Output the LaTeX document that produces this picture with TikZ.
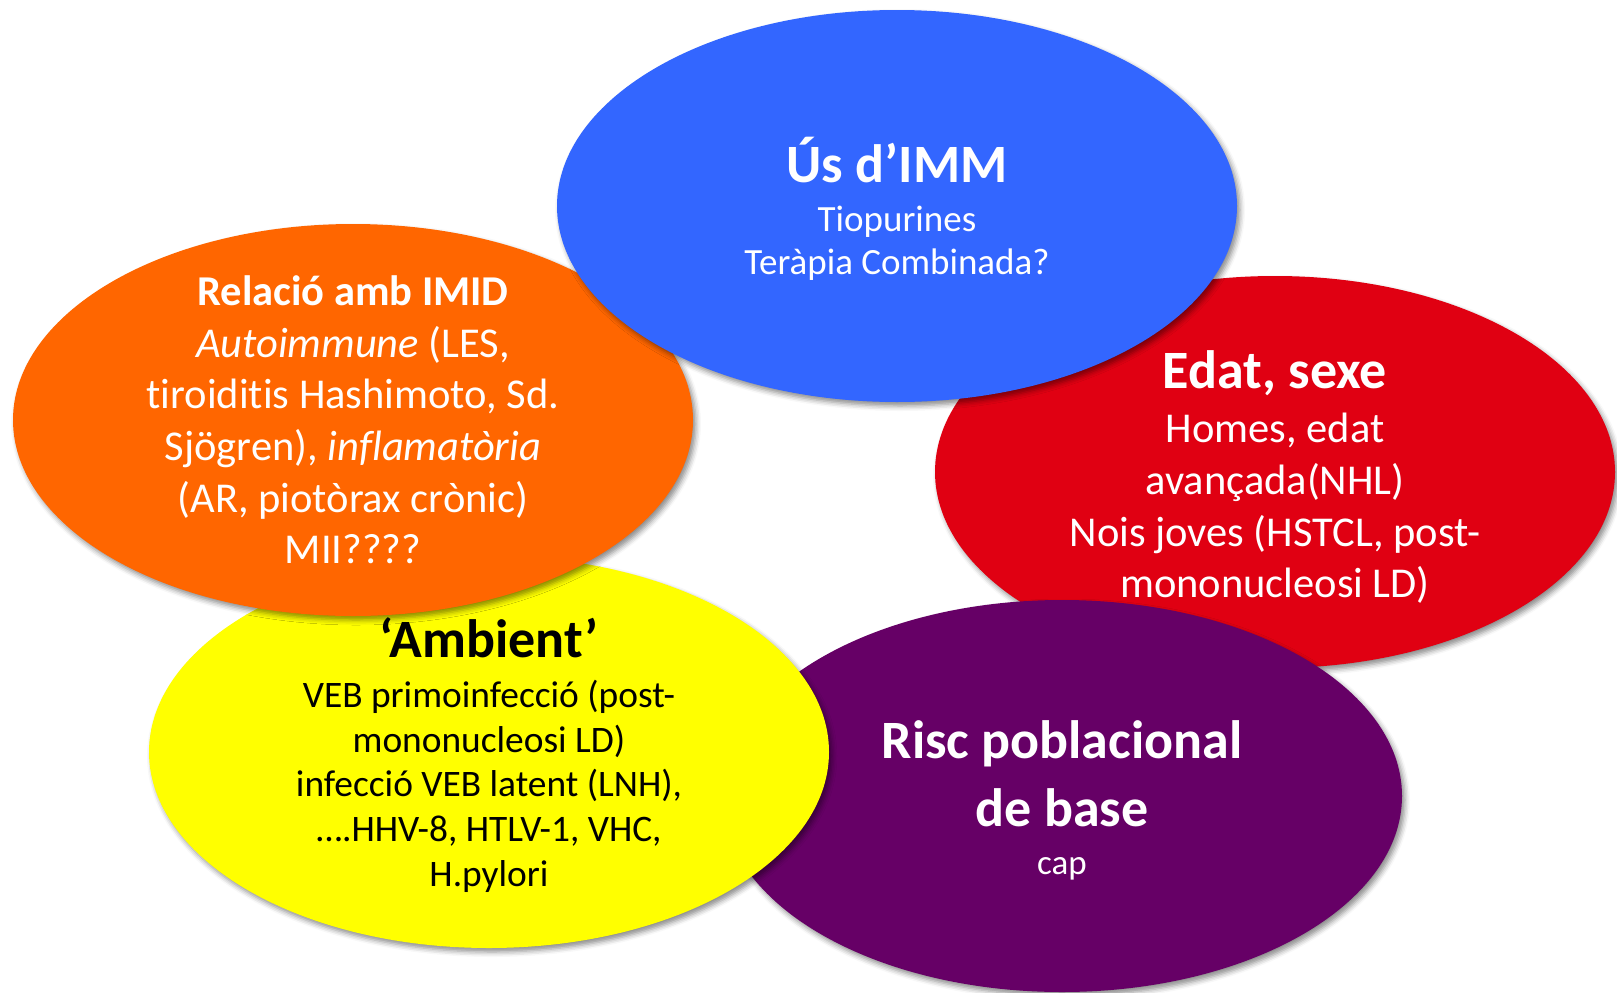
\documentclass[tikz,border=0pt]{standalone}
\usepackage{fontspec}
\setmainfont{Carlito}[Ligatures=NoCommon]
\usepackage{tikz}
\usetikzlibrary{positioning,shapes.geometric,shadows.blur}

\definecolor{immblue}{HTML}{3366FF}
\definecolor{imidorange}{HTML}{FF6600}
\definecolor{edatred}{HTML}{E00012}
\definecolor{riscpurple}{HTML}{660066}
\definecolor{ambyellow}{HTML}{FFFF00}

\newcommand{\bigtitle}{\fontsize{54}{65}\selectfont\bfseries}

\begin{document}
\begin{tikzpicture}[
    x=1pt, y=-1pt,
    factor/.style={ellipse, minimum width=680pt, minimum height=392pt, inner sep=0pt,
        blur shadow={shadow xshift=3pt, shadow yshift=-4pt, shadow blur radius=5pt, shadow opacity=45}},
    factortext/.style={align=center, text=white, inner sep=0pt},
    bodyL/.style={font=\fontsize{42.5}{51.6}\selectfont},
    bodyS/.style={font=\fontsize{37}{43.5}\selectfont}
]
\useasboundingbox (0,0) rectangle (1617,993);

% Nodes (back to front)
\node[factor, fill=edatred] (edat) at (1275,472) {};
\node[factortext, bodyL] (edattext) at ([yshift=-5pt]edat.center)
    {{\bigtitle Edat, sexe}\\[3pt] Homes, edat\\ avançada(NHL)\\ Nois joves (HSTCL, post-\\ mononucleosi LD)};

\node[factor, fill=riscpurple] (risc) at (1062,796) {};
\node[factortext, bodyS] (risctext) at ([yshift=-4pt]risc.center)
    {{\bigtitle Risc poblacional}\\[21pt] {\bigtitle de base}\\[4pt] {\fontsize{35}{43.5}\selectfont cap}};

\node[factor, fill=ambyellow] (ambient) at (489,752) {};
\node[factortext, text=black, font=\fontsize{37.4}{44.7}\selectfont] (ambienttext) at ([yshift=-3pt]ambient.center)
    {{\bigtitle ‘Ambient’}\\[5pt] VEB primoinfecció (post-\\ mononucleosi LD)\\ infecció VEB latent (LNH),\\ ….HHV-8, HTLV-1, VHC,\\ H.pylori};

\node[factor, fill=imidorange] (imid) at (353,420) {};
\node[factortext, bodyL] (imidtext) at (imid.center)
    {\textbf{Relació amb IMID}\\ \textit{Autoimmune} (LES,\\ tiroiditis Hashimoto, Sd.\\ Sjögren), \textit{inflamatòria}\\ (AR, piotòrax crònic)\\ MII????};

\node[factor, fill=immblue] (imm) at (897,206) {};
\node[factortext, bodyS] (immtext) at ([yshift=-3pt]imm.center)
    {{\bigtitle Ús d’IMM}\\[5pt] Tiopurines\\ Teràpia Combinada?};

\end{tikzpicture}
\end{document}
